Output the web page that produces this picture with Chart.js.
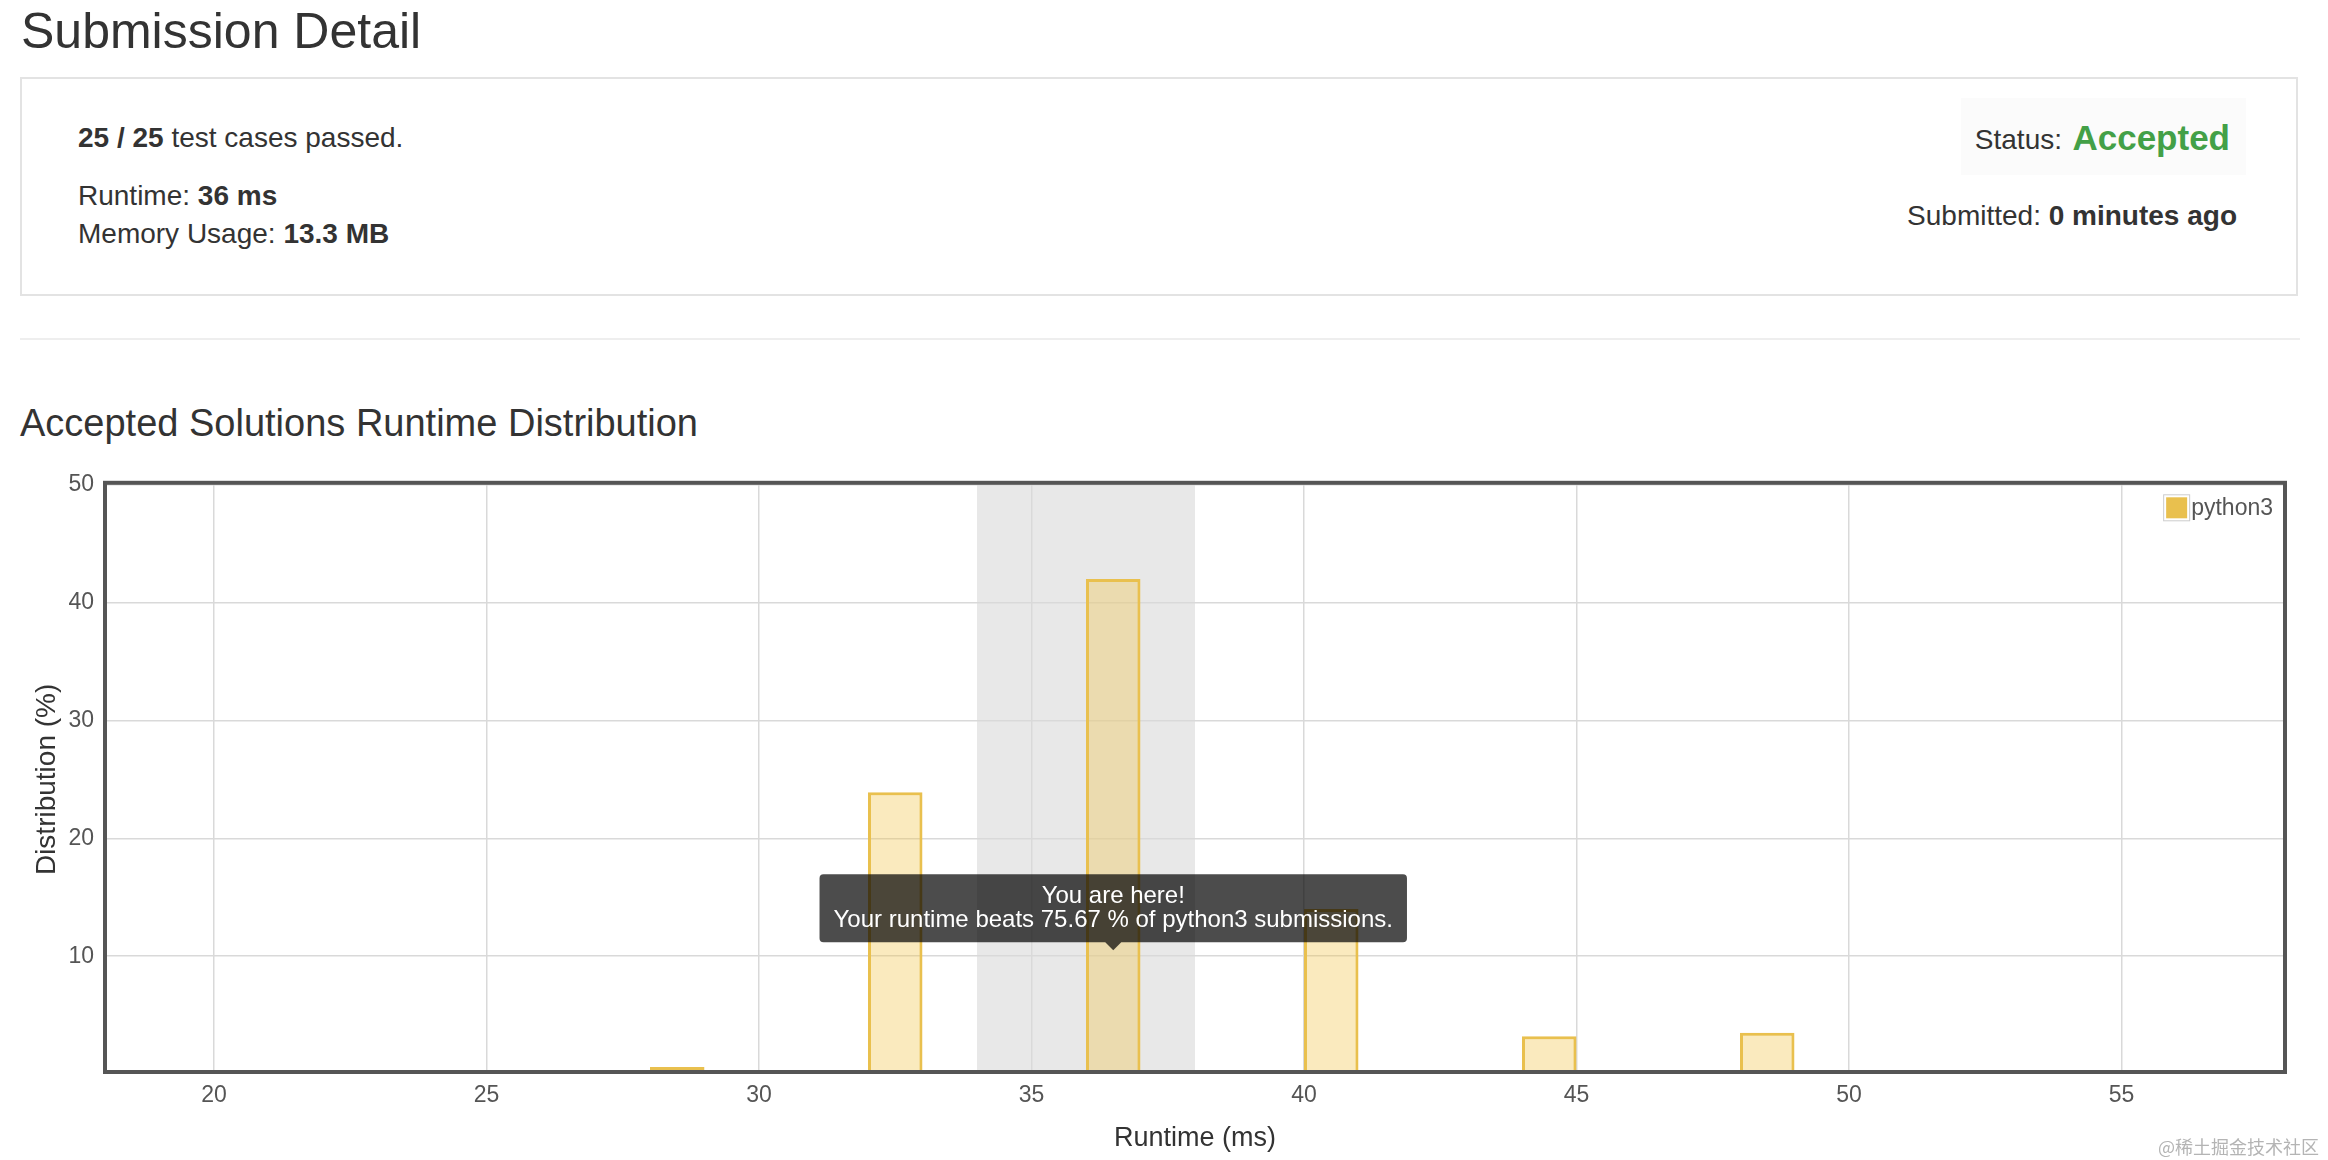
<!DOCTYPE html>
<html>
<head>
<meta charset="utf-8">
<title>Submission Detail</title>
<script src="https://cdn.jsdelivr.net/npm/chart.js@4.4.1/dist/chart.umd.min.js"></script>
<style>
  html, body { margin: 0; padding: 0; background: #fff; }
  body {
    width: 2328px; height: 1160px; position: relative; overflow: hidden;
    font-family: "Helvetica Neue", Helvetica, Arial, "Liberation Sans", sans-serif;
    color: #333;
  }
  .abs { position: absolute; white-space: nowrap; line-height: 1; }
  .title { left: 21px; top: 6px; font-size: 50px; }
  .panel {
    position: absolute; left: 20px; top: 77px; width: 2278px; height: 219px;
    border: 2px solid #e3e3e3; box-sizing: border-box;
  }
  .line { left: 78px; font-size: 28px; }
  .status-bg { position: absolute; left: 1961px; top: 98px; width: 285px; height: 77px; background: #fbfbfb; }
  .accepted { font-size: 35px; font-weight: bold; color: #43a047; }
  .rule { position: absolute; left: 20px; top: 338px; width: 2280px; height: 2px; background: #eeeeee; }
  .subtitle { left: 20px; top: 404px; font-size: 38px; }
  .chart-wrap { position: absolute; left: 0; top: 460px; width: 2328px; height: 700px; }
  .mark { right: 9px; top: 1137px; font-size: 18px; color: #b4b4b4; font-family: "Noto Sans CJK SC", sans-serif; }
</style>
</head>
<body>
  <div class="abs title">Submission Detail</div>

  <div class="panel"></div>
  <div class="abs line" style="top:124px"><b>25 / 25</b> test cases passed.</div>
  <div class="abs line" style="top:182px">Runtime: <b>36 ms</b></div>
  <div class="abs line" style="top:220px">Memory Usage: <b>13.3 MB</b></div>

  <div class="status-bg"></div>
  <div class="abs" style="right:266px; top:126px; font-size:28px">Status:</div>
  <div class="abs accepted" style="right:98px; top:120px">Accepted</div>
  <div class="abs" style="right:91px; top:202px; font-size:28px">Submitted: <b>0 minutes ago</b></div>

  <div class="rule"></div>
  <div class="abs subtitle">Accepted Solutions Runtime Distribution</div>

  <div class="chart-wrap"><canvas id="runtimeChart" width="2328" height="700"></canvas></div>

  <div class="abs mark">@稀土掘金技术社区</div>

<script>
  // runtime histogram (bins of 1 ms), distribution in %
  const binStarts = [28, 32, 36, 40, 44, 48];
  const binWidth = 1;
  const distribution = [0.6, 23.9, 42.0, 14.0, 3.2, 3.5];

  const xTicks = [20, 25, 30, 35, 40, 45, 50, 55];
  const yTicks = [10, 20, 30, 40, 50];
  const xRange = [18, 58];
  const yRange = [0, 50];

  const language = 'python3';
  const yourRuntime = 36;
  const yourRange = [34, 38];
  const beatsPercent = 75.67;
  const tooltipAnchor = [36.5, 10.5];

  const fontFamily = '"Helvetica Neue", Helvetica, Arial, "Liberation Sans", sans-serif';
  const barLine = 'rgb(233, 192, 78)';
  const barFill = 'rgba(240, 195, 70, 0.35)';
  const gridColor = '#d9d9d9';
  const textColor = '#555555';

  Chart.defaults.font.family = fontFamily;

  // gray band behind the grid for the user's runtime range
  const rangeBand = {
    id: 'rangeBand',
    beforeDraw(chart) {
      const { ctx, chartArea, scales } = chart;
      const x0 = scales.x.getPixelForValue(yourRange[0]);
      const x1 = scales.x.getPixelForValue(yourRange[1]);
      ctx.save();
      ctx.fillStyle = '#e8e8e8';
      ctx.fillRect(x0, chartArea.top, x1 - x0, chartArea.bottom - chartArea.top);
      ctx.restore();
    }
  };

  // thick frame round the plot
  const plotFrame = {
    id: 'plotFrame',
    afterDatasetsDraw(chart) {
      const { ctx, chartArea } = chart;
      ctx.save();
      ctx.strokeStyle = '#555555';
      ctx.lineWidth = 4;
      ctx.strokeRect(chartArea.left, chartArea.top - 2, chartArea.right - chartArea.left, chartArea.bottom - chartArea.top);
      ctx.restore();
    }
  };

  // legend sits inside the plot, top right
  const insideLegend = {
    id: 'insideLegend',
    afterDatasetsDraw(chart) {
      const { ctx, chartArea } = chart;
      const label = chart.data.datasets[0].label;
      ctx.save();
      ctx.font = '23px ' + fontFamily;
      const tw = ctx.measureText(label).width;
      const box = 21;
      const textX = chartArea.right - 12 - tw;
      const boxX = textX - 4 - box;
      const cy = chartArea.top + 23;
      ctx.fillStyle = '#ffffff';
      ctx.fillRect(boxX - 3, cy - box / 2 - 3, box + 6, box + 6);
      ctx.strokeStyle = '#cccccc';
      ctx.lineWidth = 1;
      ctx.strokeRect(boxX - 2.5, cy - box / 2 - 2.5, box + 5, box + 5);
      ctx.fillStyle = barLine;
      ctx.fillRect(boxX, cy - box / 2, box, box);
      ctx.fillStyle = textColor;
      ctx.textBaseline = 'middle';
      ctx.fillText(label, textX, cy + 1);
      ctx.restore();
    }
  };

  Chart.Tooltip.positioners.runtimeAnchor = function () {
    const c = this.chart;
    return {
      x: c.scales.x.getPixelForValue(tooltipAnchor[0]),
      y: c.scales.y.getPixelForValue(tooltipAnchor[1])
    };
  };

  const minGap = Math.min(...binStarts.slice(1).map((v, i) => v - binStarts[i]));

  const ctx = document.getElementById('runtimeChart').getContext('2d');
  const chart = new Chart(ctx, {
    type: 'bar',
    data: {
      datasets: [{
        label: language,
        data: binStarts.map((s, i) => ({ x: s + binWidth / 2, y: distribution[i] })),
        backgroundColor: barFill,
        borderColor: barLine,
        hoverBackgroundColor: barFill,
        hoverBorderColor: barLine,
        borderWidth: 3,
        categoryPercentage: 1,
        barPercentage: binWidth / minGap
      }]
    },
    plugins: [rangeBand, plotFrame, insideLegend],
    options: {
      responsive: false,
      animation: false,
      events: [],
      layout: { padding: { top: 22, right: 43, left: 0, bottom: 0 } },
      scales: {
        x: {
          type: 'linear',
          min: xRange[0],
          max: xRange[1],
          offset: false,
          afterBuildTicks: s => { s.ticks = xTicks.map(v => ({ value: v })); },
          afterFit: s => { s.height = 86; },
          grid: { color: gridColor, lineWidth: 1.5, drawTicks: false, offset: false },
          border: { display: false },
          ticks: { color: textColor, font: { size: 23 }, padding: 8, maxRotation: 0 },
          title: {
            display: true, text: 'Runtime (ms)', color: '#333333',
            font: { size: 27 }, padding: { top: 0, bottom: 5 }
          }
        },
        y: {
          min: yRange[0],
          max: yRange[1],
          afterBuildTicks: s => { s.ticks = yTicks.map(v => ({ value: v })); },
          afterFit: s => { s.width = 105; },
          grid: { color: gridColor, lineWidth: 1.5, drawTicks: false },
          border: { display: false },
          ticks: { color: textColor, font: { size: 23 }, padding: 11 },
          title: {
            display: true, text: 'Distribution (%)', color: '#333333',
            font: { size: 28 }, padding: { top: 30, bottom: 0 }
          }
        }
      },
      plugins: {
        legend: { display: false },
        tooltip: {
          enabled: true,
          position: 'runtimeAnchor',
          xAlign: 'center',
          yAlign: 'bottom',
          backgroundColor: 'rgba(0, 0, 0, 0.7)',
          titleColor: '#ffffff',
          bodyColor: '#ffffff',
          titleFont: { size: 24, weight: 'normal', lineHeight: 1 },
          bodyFont: { size: 24, lineHeight: 1 },
          titleAlign: 'center',
          bodyAlign: 'center',
          titleMarginBottom: 0,
          titleSpacing: 0,
          padding: { x: 14, y: 10 },
          caretSize: 8,
          caretPadding: 0,
          cornerRadius: 4,
          displayColors: false,
          callbacks: {
            title: () => 'You are here!',
            label: () => `Your runtime beats ${beatsPercent} % of ${language} submissions.`
          }
        }
      }
    }
  });

  chart.tooltip.setActiveElements(
    [{ datasetIndex: 0, index: binStarts.indexOf(yourRuntime) }],
    { x: 0, y: 0 }
  );
  chart.update();
</script>
</body>
</html>
